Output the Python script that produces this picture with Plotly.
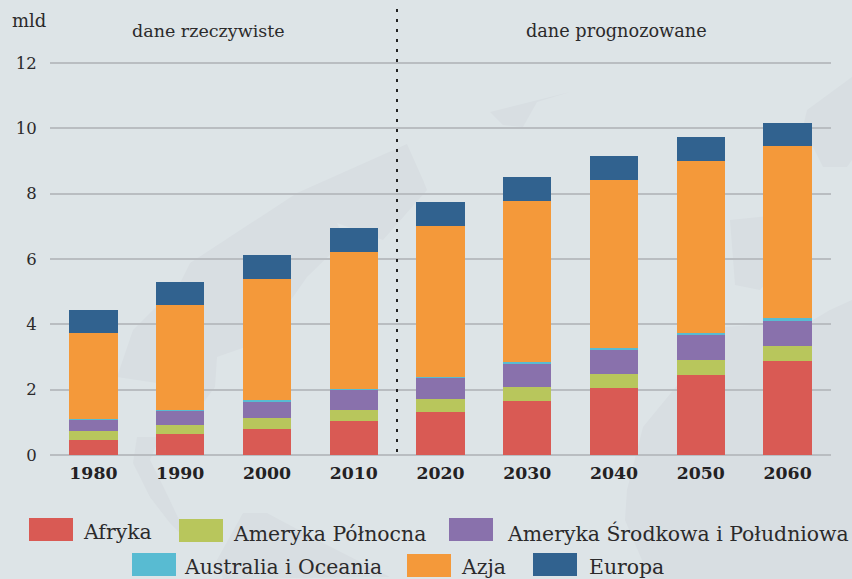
import plotly.graph_objects as go

years = ["1980", "1990", "2000", "2010", "2020", "2030", "2040", "2050", "2060"]
afryka = [0.46, 0.63, 0.80, 1.04, 1.33, 1.66, 2.06, 2.46, 2.89]
ameryka_pn = [0.26, 0.28, 0.33, 0.35, 0.38, 0.41, 0.42, 0.45, 0.46]
ameryka_pd = [0.36, 0.45, 0.52, 0.60, 0.65, 0.72, 0.76, 0.78, 0.78]
australia = [0.02, 0.03, 0.03, 0.04, 0.04, 0.05, 0.05, 0.05, 0.06]
azja = [2.64, 3.19, 3.72, 4.17, 4.61, 4.92, 5.14, 5.26, 5.28]
europa = [0.70, 0.72, 0.72, 0.74, 0.73, 0.74, 0.72, 0.72, 0.70]

series = [
    ("Afryka", afryka, "#d95a54"),
    ("Ameryka Północna", ameryka_pn, "#b8c65c"),
    ("Ameryka Środkowa i Południowa", ameryka_pd, "#8971ac"),
    ("Australia i Oceania", australia, "#58bbd2"),
    ("Azja", azja, "#f4993a"),
    ("Europa", europa, "#31628f"),
]

W, H = 852, 579
L, R, T, B = 50, 21, 59, 124
FONT = "DejaVu Serif"
TXT = "#2b2a2b"

def px(x):
    return (x - L) / (W - L - R)

def py(y):
    return 1 - (y - T) / (H - T - B)

fig = go.Figure()
for name, vals, col in series:
    fig.add_bar(x=years, y=vals, name=name, marker=dict(color=col, line=dict(width=0)), showlegend=False)

shapes = []
annotations = []

# pale world-map backdrop
map_col = "#d8dee2"
blobs = [
    [(117, 377), (133, 330), (180, 283), (190, 263), (297, 193), (407, 144), (423, 180), (427, 190), (383, 240),
     (337, 223), (345, 240), (307, 277), (293, 297), (257, 343), (217, 357), (215, 387), (203, 403), (157, 383)],
    [(137, 437), (160, 437), (150, 460), (165, 490), (190, 543), (170, 523), (150, 497), (133, 463)],
    [(243, 513), (267, 513), (323, 543), (390, 577), (223, 579), (217, 560)],
    [(490, 112), (570, 92), (537, 102), (523, 127), (503, 125)],
    [(627, 490), (643, 427), (725, 327), (813, 320), (830, 310), (852, 300), (852, 579), (650, 579), (625, 520)],
    [(852, 77), (807, 110), (803, 127), (823, 167), (847, 167), (852, 160)],
    [(730, 220), (780, 215), (800, 245), (760, 290), (735, 285)],
]
for b in blobs:
    d = "M" + " L".join(f"{px(x):.4f},{py(y):.4f}" for x, y in b) + " Z"
    shapes.append(dict(type="path", xref="paper", yref="paper", path=d, fillcolor=map_col, line=dict(width=0), layer="below"))

# divider between observed and forecast data
shapes.append(dict(type="line", xref="paper", yref="paper", x0=px(397), x1=px(397), y0=py(9), y1=py(454),
                   line=dict(color="#222222", width=2, dash="3px,7px"), layer="above"))

def text(x, y, s, size=17, anchor="left"):
    annotations.append(dict(xref="paper", yref="paper", x=px(x), y=py(y), text=s, showarrow=False,
                            xanchor=anchor, yanchor="middle", borderpad=0, borderwidth=0,
                            font=dict(family=FONT, size=size, color=TXT)))

text(12, 20, "mld", 18)
text(208, 31, "dane rzeczywiste", 17.5, "center")
text(616, 31, "dane prognozowane", 17.7, "center")

legend_pos = [(29, 518, 83, 532), (179, 519, 233, 534), (449, 518, 507, 533),
              (132, 553, 184, 567), (407, 554, 461, 567), (533, 553, 589, 567)]
for (name, vals, col), (sx, sy, tx, ty) in zip(series, legend_pos):
    shapes.append(dict(type="rect", xref="paper", yref="paper", x0=px(sx), x1=px(sx + 44),
                       y0=py(sy), y1=py(sy + 23), fillcolor=col, line=dict(width=0), layer="above"))
    text(tx, ty, name, 20.4)

fig.update_layout(
    width=W, height=H, barmode="stack", bargap=0.444,
    margin=dict(l=L, r=R, t=T, b=B, autoexpand=False),
    paper_bgcolor="#dde4e7", plot_bgcolor="rgba(0,0,0,0)",
    font=dict(family=FONT, color=TXT),
    shapes=shapes, annotations=annotations,
    xaxis=dict(type="category", range=[-0.5, 8.5], showgrid=False, showline=False, zeroline=False,
               ticks="outside", ticklen=2, tickcolor="rgba(0,0,0,0)",
               tickfont=dict(family=FONT, size=17.3, color="#232123", weight="bold")),
    yaxis=dict(range=[0, 12.12], tickvals=[0, 2, 4, 6, 8, 10, 12], showgrid=True, gridcolor="#b9bdc1", gridwidth=2,
               zeroline=True, zerolinecolor="#b9bdc1", zerolinewidth=2, showline=False,
               ticks="outside", ticklen=9, tickcolor="rgba(0,0,0,0)",
               tickfont=dict(family=FONT, size=16.5, color=TXT)),
)
fig.write_html("out.html", config=dict(displayModeBar=False),
               post_script="document.body.style.margin='0';document.documentElement.style.overflow='hidden';")
